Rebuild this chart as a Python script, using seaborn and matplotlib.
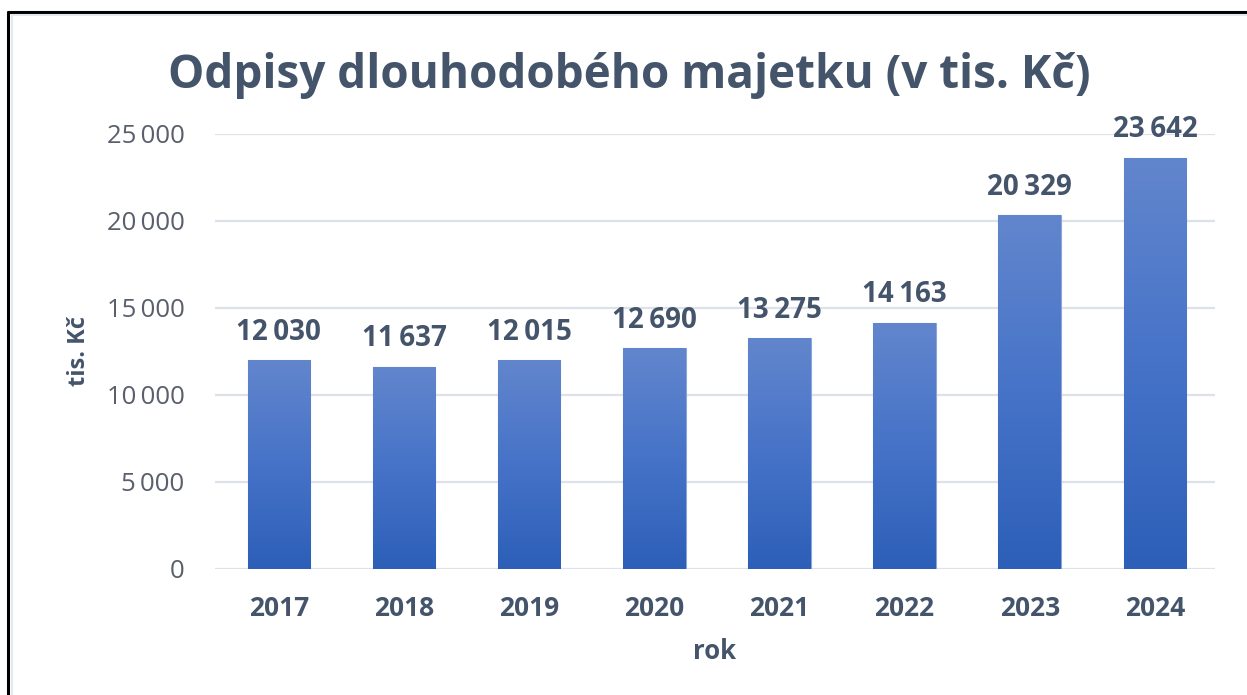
import numpy as np
import pandas as pd
import matplotlib
matplotlib.use('Agg')
import matplotlib.pyplot as plt
import seaborn as sns
from matplotlib.colors import LinearSegmentedColormap
from matplotlib.lines import Line2D

# Data
years = ['2017', '2018', '2019', '2020', '2021', '2022', '2023', '2024']
odpisy = [12030, 11637, 12015, 12690, 13275, 14163, 20329, 23642]
y_ticks = [0, 5000, 10000, 15000, 20000, 25000]

df = pd.DataFrame({'rok': years, 'odpisy': odpisy})

sns.set_theme(style='white')
plt.rcParams['font.family'] = ['Open Sans', 'DejaVu Sans']

text_col = '#44546a'
tick_col = '#595f6b'
grid_col = '#dde2ea'

fig = plt.figure(figsize=(12.47, 6.95), dpi=100)
ax = fig.add_axes([0.1724, 0.1813, 0.8019, 0.6259])

sns.barplot(data=df, x='rok', y='odpisy', color='#4472c4', width=0.5,
            ax=ax, zorder=2)

# gradient fill on bars
cmap = LinearSegmentedColormap.from_list('grad', ['#2d5fb8', '#4673c8', '#6286cd'])
grad = np.linspace(0, 1, 256).reshape(-1, 1)
for bar in ax.patches:
    x0, y0 = bar.get_x(), bar.get_y()
    w, h = bar.get_width(), bar.get_height()
    bar.set_facecolor('none')
    bar.set_edgecolor('#8aa6dc')
    bar.set_linewidth(0.8)
    im = ax.imshow(grad, cmap=cmap, aspect='auto', origin='lower',
                   extent=[x0, x0 + w, y0, y0 + h], zorder=2)
    im.set_clip_path(bar)

ax.set_xlim(-0.51, 7.48)
ax.set_ylim(0, 25000)

# data labels
for i, v in enumerate(odpisy):
    ax.annotate(f'{v:,}'.replace(',', '\u2009'), (i, v), xytext=(0, 14.5),
                textcoords='offset points', ha='center', va='baseline',
                fontsize=20, fontweight='bold', color=text_col,
                annotation_clip=False, zorder=4)

ax.set_yticks(y_ticks)
ax.set_yticklabels([f'{t:,}'.replace(',', '\u2009') for t in y_ticks],
                   fontsize=18.5, color=tick_col)
ax.tick_params(axis='y', length=0, pad=22)
ax.tick_params(axis='x', length=0, pad=19, labelsize=19, labelcolor=text_col)
for lab in ax.get_xticklabels():
    lab.set_fontweight('bold')

ax.yaxis.grid(True, color=grid_col, linewidth=1.6, zorder=0)
ax.set_axisbelow(True)
sns.despine(ax=ax, left=True, bottom=True)

ax.set_xlabel('rok', fontsize=18.5, fontweight='bold', color=text_col, labelpad=11)
ax.set_ylabel('tis. Kč', fontsize=17, fontweight='bold', color=text_col, labelpad=11)

fig.text(0.505, 0.892, 'Odpisy dlouhodobého majetku (v tis. Kč)', ha='center', va='center',
         fontsize=33, fontweight='bold', color=text_col)

# outer frame (top and left edges visible)
fig.add_artist(Line2D([0.0064, 0.0064], [0.0, 0.983], transform=fig.transFigure,
                      color='black', linewidth=2.2))
fig.add_artist(Line2D([0.0064, 1.0], [0.983, 0.983], transform=fig.transFigure,
                      color='black', linewidth=2.2))
fig.add_artist(Line2D([0.0095, 0.0095], [0.0, 0.979], transform=fig.transFigure,
                      color='#e4e8ef', linewidth=1.5))
fig.add_artist(Line2D([0.0095, 1.0], [0.979, 0.979], transform=fig.transFigure,
                      color='#e4e8ef', linewidth=1.5))

fig.savefig('out.png', dpi=100)
